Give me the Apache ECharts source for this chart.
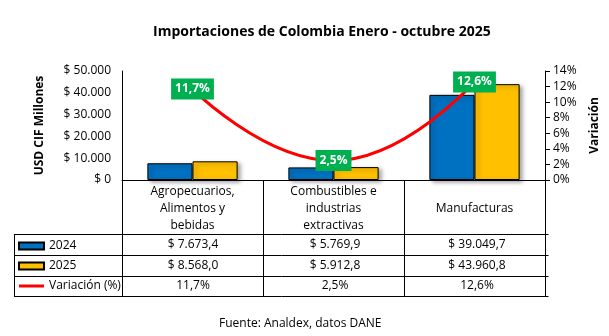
<!DOCTYPE html>
<html>
<head>
<meta charset="utf-8">
<script src="https://cdn.jsdelivr.net/npm/echarts@6/dist/echarts.min.js"></script>
<style>
html,body{margin:0;padding:0;background:#fff;}
#chart{width:609px;height:336px;}
</style>
</head>
<body>
<div id="chart"></div>
<script>
const titleText = 'Importaciones de Colombia Enero - octubre 2025';
const sourceText = 'Fuente: Analdex, datos DANE';
const categories = ['Agropecuarios,\nAlimentos y\nbebidas', 'Combustibles e\nindustrias\nextractivas', 'Manufacturas'];
const seriesNames = ['2024', '2025', 'Variación (%)'];
const imports2024 = [7673.4, 5769.9, 39049.7];
const imports2025 = [8568.0, 5912.8, 43960.8];
const variation = [11.7, 2.5, 12.6];
const leftTicks = [0, 10000, 20000, 30000, 40000, 50000];
const rightTicks = [0, 2, 4, 6, 8, 10, 12, 14];

const FONT = '"Open Sans", "Liberation Sans", sans-serif';

function groupThousands(s) {
  return s.replace(/\B(?=(\d{3})+(?!\d))/g, '.');
}
function fmtMoney(v, dec) {
  const parts = v.toFixed(dec).split('.');
  let s = '$ ' + groupThousands(parts[0]);
  if (dec > 0) s += ',' + parts[1];
  return s;
}
function fmtPct(v) {
  return v.toFixed(1).replace('.', ',') + '%';
}

const chart = echarts.init(document.getElementById('chart'), null, {renderer: 'canvas'});

const gridLeft = 122, gridRight = 61, gridTop = 71, gridBottom = 156;
const W = 609;
const plotW = W - gridLeft - gridRight;
const colW = plotW / categories.length;
const rowY = [244.5, 265.5, 286];
const hLines = [234, 255, 276, 296];

const graphics = [];
hLines.forEach(y => {
  graphics.push({type: 'line', shape: {x1: 14, y1: y + 0.5, x2: W - gridRight + 0.5, y2: y + 0.5},
    style: {stroke: '#000', lineWidth: 1}, silent: true});
});
graphics.push({type: 'line', shape: {x1: 14.5, y1: hLines[0] + 0.5, x2: 14.5, y2: hLines[3] + 0.5},
  style: {stroke: '#000', lineWidth: 1}, silent: true});
const rows = [
  imports2024.map(v => fmtMoney(v, 1)),
  imports2025.map(v => fmtMoney(v, 1)),
  variation.map(fmtPct)
];
rows.forEach((r, ri) => {
  r.forEach((t, ci) => {
    graphics.push({type: 'text', x: gridLeft + colW * (ci + 0.5), y: rowY[ri],
      style: {text: t, font: '12px ' + FONT, fill: '#000', textAlign: 'center', textVerticalAlign: 'middle'}, silent: true});
  });
});

const option = {
  animation: false,
  backgroundColor: '#fff',
  title: {
    text: titleText, left: 148, top: 20,
    textStyle: {fontFamily: FONT, fontSize: 14, fontWeight: 'bold', color: '#000'}
  },
  grid: {left: gridLeft, right: gridRight, top: gridTop, bottom: gridBottom, containLabel: false},
  legend: {
    orient: 'vertical', left: 13, top: 234, itemGap: 6,
    itemWidth: 25, itemHeight: 7,
    textStyle: {fontFamily: FONT, fontSize: 12, color: '#000', lineHeight: 14},
    data: [
      {name: seriesNames[0], icon: 'rect'},
      {name: seriesNames[1], icon: 'rect'},
      {name: seriesNames[2], icon: 'path://M0,0H25V3H0Z', itemStyle: {color: '#FF0000', borderWidth: 0}}
    ],
    selectedMode: false
  },
  xAxis: {
    type: 'category', data: categories,
    axisLine: {show: true, lineStyle: {color: '#000', width: 1}},
    axisTick: {show: true, length: 116, lineStyle: {color: '#000', width: 1}},
    axisLabel: {
      fontFamily: FONT, fontSize: 12, color: '#000', lineHeight: 17, margin: 3,
      align: 'center', verticalAlign: 'top',
      formatter: v => (v.indexOf('\n') < 0 ? '\n' + v : v)
    },
    splitLine: {show: false}
  },
  yAxis: [
    {
      type: 'value', min: 0, max: 50000, interval: 10000,
      name: 'USD CIF Millones', nameLocation: 'middle', nameGap: 76, nameRotate: 90,
      nameTextStyle: {fontFamily: FONT, fontSize: 12, fontWeight: 'bold', color: '#000'},
      axisLine: {show: true, lineStyle: {color: '#000', width: 1}},
      axisTick: {show: false},
      axisLabel: {fontFamily: FONT, fontSize: 12, color: '#000', margin: 11, formatter: v => fmtMoney(v, 0)},
      splitLine: {show: false}
    },
    {
      type: 'value', min: 0, max: 14, interval: 2, position: 'right',
      name: 'Variación', nameLocation: 'middle', nameGap: 44, nameRotate: 90,
      nameTextStyle: {fontFamily: FONT, fontSize: 12, fontWeight: 'bold', color: '#000'},
      axisLine: {show: true, lineStyle: {color: '#000', width: 1}},
      axisTick: {show: true, length: 5, lineStyle: {color: '#000'}},
      axisLabel: {fontFamily: FONT, fontSize: 12, color: '#000', margin: 8, formatter: v => v + '%'},
      splitLine: {show: false}
    }
  ],
  series: [
    {
      name: seriesNames[0], type: 'bar', yAxisIndex: 0, data: imports2024,
      barGap: '0%', barCategoryGap: '36%',
      itemStyle: {color: '#0070C0', borderColor: '#000', borderWidth: 1,
        shadowColor: 'rgba(0,0,0,0.35)', shadowBlur: 4, shadowOffsetX: 3, shadowOffsetY: 2}
    },
    {
      name: seriesNames[1], type: 'bar', yAxisIndex: 0, data: imports2025,
      barGap: '0%', barCategoryGap: '36%',
      itemStyle: {color: '#FFC000', borderColor: '#000', borderWidth: 1,
        shadowColor: 'rgba(0,0,0,0.35)', shadowBlur: 4, shadowOffsetX: 3, shadowOffsetY: 2}
    },
    {
      name: seriesNames[2], type: 'line', yAxisIndex: 1, data: variation,
      smooth: 0.5, symbol: 'circle', symbolSize: 1, z: 5,
      lineStyle: {color: '#FF0000', width: 3},
      itemStyle: {color: '#FF0000'},
      label: {
        show: true, position: 'inside', formatter: p => fmtPct(p.value),
        backgroundColor: '#00B050', color: '#fff', fontFamily: FONT, fontSize: 12, fontWeight: 'bold',
        padding: [3, 4], lineHeight: 15
      }
    }
  ],
  graphic: graphics.concat([
    {type: 'text', left: 219, top: 318,
      style: {text: sourceText, font: '12px ' + FONT, fill: '#000'}, silent: true}
  ])
};
chart.setOption(option);
</script>
</body>
</html>
